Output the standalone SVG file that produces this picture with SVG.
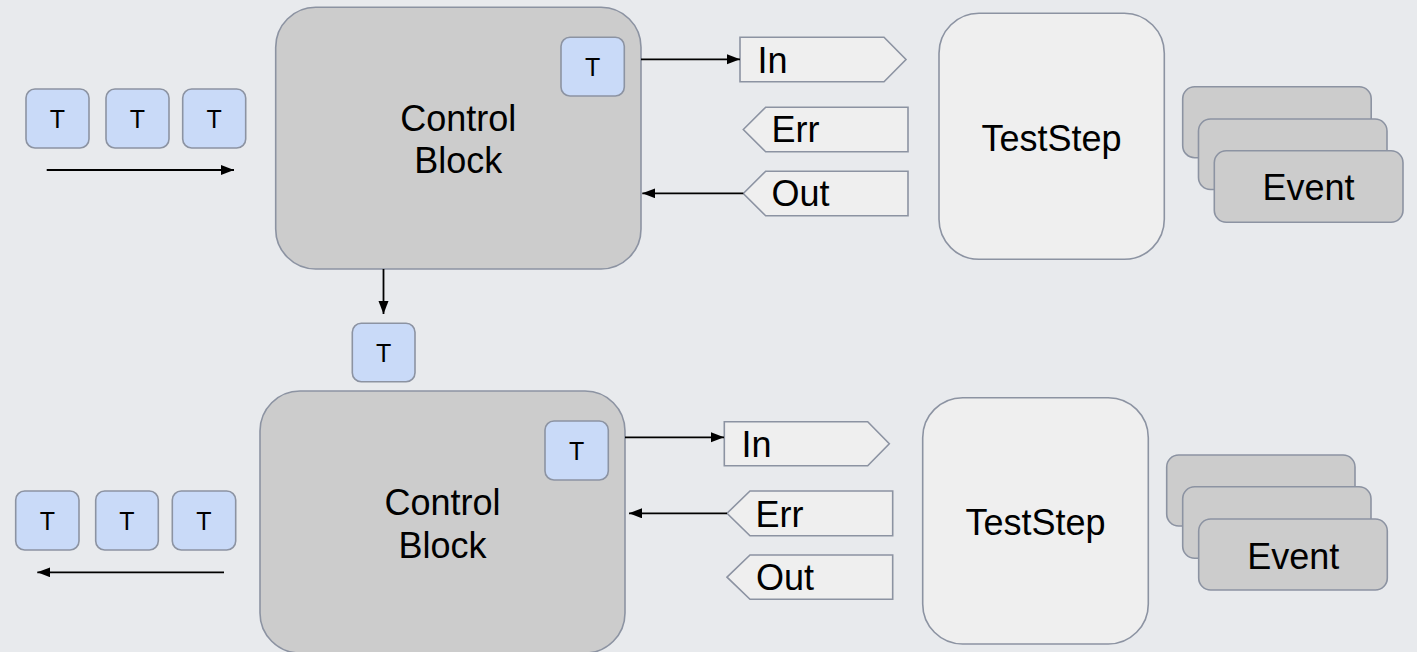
<svg xmlns="http://www.w3.org/2000/svg" width="1417" height="652" viewBox="0 0 1417 652">
  <defs>
    <marker id="arrow" markerUnits="userSpaceOnUse" markerWidth="14" markerHeight="11" refX="13" refY="5" orient="auto">
      <path d="M0,0 L13,5 L0,10 z" fill="#000"/>
    </marker>
    <style>
      text { font-family: "Liberation Sans", Arial, sans-serif; fill: #000; }
      .big { font-size: 36px; }
      .small { font-size: 25px; text-anchor: middle; }
      .mid { text-anchor: middle; }
      .block { fill: #cccccc; stroke: #8c93a2; stroke-width: 1.6; }
      .step { fill: #efefef; stroke: #8c93a2; stroke-width: 1.6; }
      .token { fill: #c9daf8; stroke: #8c93a2; stroke-width: 1.6; }
      .port { fill: #efefef; stroke: #8c93a2; stroke-width: 1.6; }
      .event { fill: #cccccc; stroke: #8c93a2; stroke-width: 1.6; }
      .wire { stroke: #000; stroke-width: 1.8; fill: none; marker-end: url(#arrow); }
    </style>
  </defs>

  <rect width="1417" height="652" fill="#e8eaed"/>

  <!-- upper stage -->
  <g id="queue-in">
    <rect class="token" x="26" y="89" width="63" height="59" rx="9"/>
    <text class="small" x="57.5" y="127.7">T</text>
    <rect class="token" x="106" y="89" width="63" height="59" rx="9"/>
    <text class="small" x="137.5" y="127.7">T</text>
    <rect class="token" x="182.7" y="89" width="63" height="59" rx="9"/>
    <text class="small" x="214.2" y="127.7">T</text>
  </g>

  <g id="control-block-1">
    <rect class="block" x="275.7" y="7.3" width="365.3" height="261.7" rx="40"/>
    <text class="big mid" x="458.3" y="130.7">Control</text>
    <text class="big mid" x="458.3" y="173.3">Block</text>
    <rect class="token" x="561" y="37.3" width="63.3" height="58.7" rx="9"/>
    <text class="small" x="592.7" y="75.7">T</text>
  </g>

  <g id="port-in-1">
    <polygon class="port" points="740,37.3 884,37.3 906,59.5 884,81.7 740,81.7"/>
    <text class="big" x="757.5" y="72.7">In</text>
  </g>
  <g id="port-err-1">
    <polygon class="port" points="743.3,129.5 765.7,107.3 908,107.3 908,151.7 765.7,151.7"/>
    <text class="big" x="771.5" y="142.3">Err</text>
  </g>
  <g id="port-out-1">
    <polygon class="port" points="743.3,193.5 765.7,171.3 908,171.3 908,215.7 765.7,215.7"/>
    <text class="big" x="771.5" y="205.7">Out</text>
  </g>

  <g id="teststep-1">
    <rect class="step" x="939" y="13.3" width="225.3" height="246" rx="40"/>
    <text class="big mid" x="1051.5" y="151">TestStep</text>
  </g>

  <g id="events-1">
    <rect class="event" x="1182.7" y="86.7" width="188.5" height="71" rx="12"/>
    <rect class="event" x="1198.5" y="119" width="188.5" height="70.5" rx="12"/>
    <rect class="event" x="1214.3" y="150.7" width="188.7" height="71.6" rx="12"/>
    <text class="big mid" x="1308.6" y="200">Event</text>
  </g>

  <g id="token-handoff">
    <rect class="token" x="352.3" y="323.3" width="62.7" height="58.4" rx="9"/>
    <text class="small" x="383.7" y="361.6">T</text>
  </g>

  <!-- lower stage -->
  <g id="queue-out">
    <rect class="token" x="15.7" y="491" width="63.3" height="59" rx="9"/>
    <text class="small" x="47.3" y="529.8">T</text>
    <rect class="token" x="95.7" y="491" width="62.6" height="59" rx="9"/>
    <text class="small" x="127" y="529.8">T</text>
    <rect class="token" x="172.3" y="491" width="63.4" height="59" rx="9"/>
    <text class="small" x="204" y="529.8">T</text>
  </g>

  <g id="control-block-2">
    <rect class="block" x="260" y="391" width="365" height="262" rx="40"/>
    <text class="big mid" x="442.5" y="515">Control</text>
    <text class="big mid" x="442.5" y="558">Block</text>
    <rect class="token" x="545" y="421" width="63.3" height="59" rx="9"/>
    <text class="small" x="576.7" y="460">T</text>
  </g>

  <g id="port-in-2">
    <polygon class="port" points="724.3,421.7 867.7,421.7 889.3,443.7 867.7,465.7 724.3,465.7"/>
    <text class="big" x="741.6" y="456.7">In</text>
  </g>
  <g id="port-err-2">
    <polygon class="port" points="727,513.3 750,491 892.7,491 892.7,535.7 750,535.7"/>
    <text class="big" x="755.5" y="526.7">Err</text>
  </g>
  <g id="port-out-2">
    <polygon class="port" points="727,577.2 750,555 892.7,555 892.7,599.3 750,599.3"/>
    <text class="big" x="756" y="590">Out</text>
  </g>

  <g id="teststep-2">
    <rect class="step" x="922.7" y="397.7" width="225.6" height="246.3" rx="40"/>
    <text class="big mid" x="1035.5" y="534.5">TestStep</text>
  </g>

  <g id="events-2">
    <rect class="event" x="1166.7" y="455" width="188.3" height="71" rx="12"/>
    <rect class="event" x="1182.7" y="486.7" width="188.3" height="71.6" rx="12"/>
    <rect class="event" x="1198.7" y="519" width="188.6" height="71" rx="12"/>
    <text class="big mid" x="1293.2" y="569.3">Event</text>
  </g>

  <!-- connectors -->
  <g id="connectors">
    <line class="wire" x1="46.7" y1="170" x2="234" y2="170"/>
    <line class="wire" x1="641" y1="59.3" x2="740" y2="59.3"/>
    <line class="wire" x1="743.3" y1="193.3" x2="642.3" y2="193.3"/>
    <line class="wire" x1="383.5" y1="269" x2="383.5" y2="314"/>
    <line class="wire" x1="625" y1="437.3" x2="724" y2="437.3"/>
    <line class="wire" x1="727" y1="513.3" x2="629" y2="513.3"/>
    <line class="wire" x1="224" y1="572.3" x2="37.3" y2="572.3"/>
  </g>
</svg>
